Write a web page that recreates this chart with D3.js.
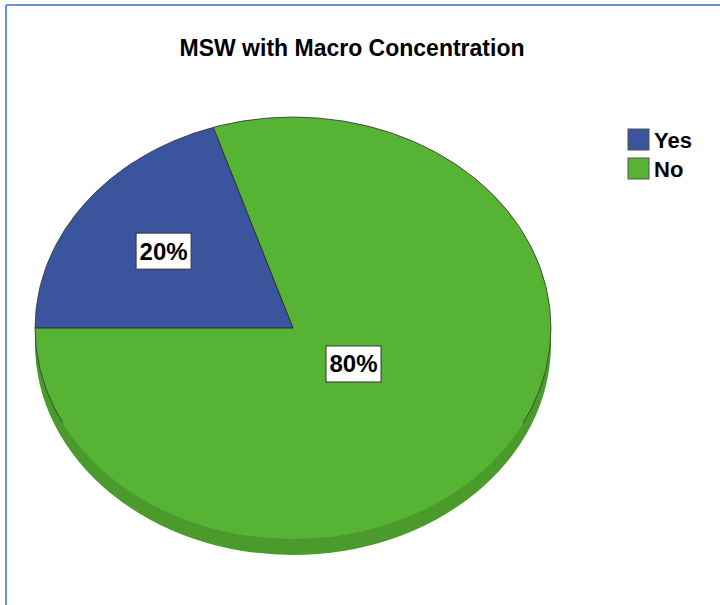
<!DOCTYPE html>
<html>
<head>
<meta charset="utf-8">
<script src="https://cdn.jsdelivr.net/npm/d3@7"></script>
<style>
  body { margin: 0; background: #fff; }
  svg { display: block; font-family: "Liberation Sans", Arial, sans-serif; }
</style>
</head>
<body>
<svg width="720" height="605"></svg>
<script>
// data
var categories = ["Yes", "No"];
var values = [20, 80];
var labels = ["20%", "80%"];
var colors = ["#3b549e", "#57b334"];

var svg = d3.select("svg"),
    cx = 293, cy = 328,
    rx = 258, ry = 211,
    depth = 16;

// frame lines (left + top)
svg.append("line").attr("x1", 6).attr("y1", 5).attr("x2", 6).attr("y2", 605)
  .attr("stroke", "#6493d6").attr("stroke-width", 2);
svg.append("line").attr("x1", 6).attr("y1", 5).attr("x2", 720).attr("y2", 5)
  .attr("stroke", "#6493d6").attr("stroke-width", 2);

svg.append("text")
  .attr("x", 352).attr("y", 56)
  .attr("text-anchor", "middle")
  .style("font-size", "23px").style("font-weight", "bold")
  .text("MSW with Macro Concentration");

var pie = d3.pie().sort(null)
  .startAngle(-Math.PI / 2).endAngle(3 * Math.PI / 2)
  .value(function(d) { return d; });
var arcs = pie(values);

// unit arc, scaled into an ellipse
var arc = d3.arc().innerRadius(0).outerRadius(1);

// side of the tilted pie
svg.append("ellipse")
  .attr("cx", cx).attr("cy", cy + depth)
  .attr("rx", rx).attr("ry", ry)
  .attr("fill", "#4a9b2c");
svg.append("rect")
  .attr("x", cx - rx).attr("y", cy).attr("width", 2 * rx).attr("height", depth)
  .attr("fill", "#4a9b2c");

var g = svg.append("g")
  .attr("transform", "translate(" + cx + "," + cy + ") scale(" + rx + "," + ry + ")");

g.selectAll("path")
  .data(arcs)
  .enter().append("path")
  .attr("d", arc)
  .attr("fill", function(d, i) { return colors[i]; });

// radial edges of the slices
arcs.forEach(function(d) {
  g.append("line")
    .attr("x1", 0).attr("y1", 0)
    .attr("x2", Math.sin(d.startAngle)).attr("y2", -Math.cos(d.startAngle))
    .attr("stroke", "#222").attr("stroke-width", 0.9)
    .attr("vector-effect", "non-scaling-stroke");
});

// rim outline, only over the upper part of the face
svg.append("clipPath").attr("id", "rimclip")
  .append("rect").attr("x", 0).attr("y", 0).attr("width", 720).attr("height", cy + ry * 0.45);
svg.append("ellipse")
  .attr("cx", cx).attr("cy", cy).attr("rx", rx).attr("ry", ry)
  .attr("fill", "none").attr("stroke", "#333").attr("stroke-width", 0.8)
  .attr("clip-path", "url(#rimclip)");

// label radii (fraction of radius) along the slice's middle angle
var labelR = [0.62, 0.29];
arcs.forEach(function(d, i) {
  var a = (d.startAngle + d.endAngle) / 2;
  var x = cx + Math.sin(a) * rx * labelR[i],
      y = cy - Math.cos(a) * ry * labelR[i];
  var lg = svg.append("g").attr("transform", "translate(" + x + "," + y + ")");
  lg.append("rect")
    .attr("x", -27.5).attr("y", -18).attr("width", 55).attr("height", 36)
    .attr("fill", "#fff").attr("stroke", "#333").attr("stroke-width", 1);
  lg.append("text")
    .attr("text-anchor", "middle").attr("y", 8.5)
    .style("font-size", "24px").style("font-weight", "bold")
    .text(labels[i]);
});

// legend
var legend = svg.append("g").attr("transform", "translate(628,129)");
categories.forEach(function(c, i) {
  var row = legend.append("g").attr("transform", "translate(0," + (i * 29) + ")");
  row.append("rect")
    .attr("width", 21).attr("height", 21)
    .attr("fill", colors[i]).attr("stroke", "#555").attr("stroke-width", 1);
  row.append("text")
    .attr("x", 26).attr("y", 19)
    .style("font-size", "22px").style("font-weight", "bold")
    .text(c);
});
</script>
</body>
</html>
